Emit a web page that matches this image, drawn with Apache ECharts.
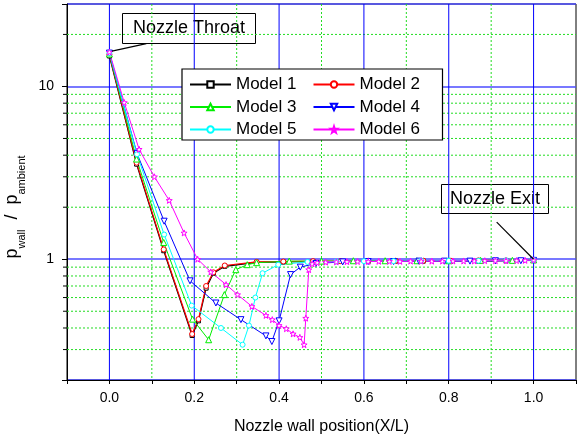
<!DOCTYPE html>
<html>
<head>
<meta charset="utf-8">
<script src="https://cdn.jsdelivr.net/npm/echarts@6.0.0/dist/echarts.min.js"></script>
<style>
  html, body { margin: 0; padding: 0; background: #fff; }
  #chart { width: 580px; height: 440px; }
</style>
</head>
<body>
<div id="chart"></div>
<script>
// wall pressure ratio along the nozzle, [X/L, p_wall/p_ambient]
var model1 = [[0, 15.0], [0.064, 3.55], [0.128, 1.12], [0.195, 0.362], [0.21, 0.44], [0.228, 0.68], [0.245, 0.83],
  [0.272, 0.91], [0.347, 0.96], [0.41, 0.965], [0.48, 0.97], [0.545, 0.97], [0.61, 0.97], [0.675, 0.975],
  [0.74, 0.975], [0.805, 0.975], [0.87, 0.975], [0.935, 0.98], [1.0, 0.985]];
var model2 = [[0, 15.3], [0.064, 3.62], [0.128, 1.14], [0.195, 0.369], [0.21, 0.45], [0.228, 0.70], [0.245, 0.84],
  [0.272, 0.92], [0.347, 0.965], [0.41, 0.97], [0.48, 0.975], [0.545, 0.975], [0.61, 0.98], [0.675, 0.98],
  [0.74, 0.98], [0.805, 0.98], [0.87, 0.985], [0.935, 0.985], [1.0, 0.99]];
var model3 = [[0, 15.4], [0.064, 3.8], [0.128, 1.25], [0.196, 0.45], [0.234, 0.342], [0.271, 0.624], [0.298, 0.87],
  [0.325, 0.93], [0.347, 0.955], [0.424, 0.975], [0.5, 0.975], [0.575, 0.98], [0.65, 0.98], [0.725, 0.98],
  [0.8, 0.98], [0.875, 0.985], [0.95, 0.985], [1.0, 0.99]];
var model4 = [[0, 15.6], [0.065, 4.1], [0.129, 1.66], [0.19, 0.75], [0.251, 0.558], [0.31, 0.447], [0.369, 0.36],
  [0.383, 0.334], [0.4, 0.44], [0.427, 0.815], [0.45, 0.9], [0.487, 0.945], [0.55, 0.965], [0.61, 0.97],
  [0.67, 0.97], [0.73, 0.975], [0.79, 0.975], [0.85, 0.975], [0.91, 0.98], [0.97, 0.98], [1.0, 0.985]];
var model5 = [[0, 15.6], [0.065, 4.05], [0.129, 1.39], [0.194, 0.539], [0.263, 0.40], [0.314, 0.32], [0.329, 0.413],
  [0.344, 0.6], [0.361, 0.83], [0.398, 0.93], [0.467, 0.965], [0.535, 0.97], [0.6, 0.975], [0.67, 0.975],
  [0.735, 0.98], [0.8, 0.98], [0.87, 0.98], [0.935, 0.985], [1.0, 0.99]];
var model6 = [[0, 15.8], [0.035, 8.07], [0.07, 4.33], [0.106, 3.0], [0.141, 2.19], [0.176, 1.42], [0.208, 1.0],
  [0.239, 0.844], [0.275, 0.713], [0.302, 0.624], [0.336, 0.533], [0.369, 0.473], [0.384, 0.447], [0.4, 0.414],
  [0.417, 0.396], [0.433, 0.37], [0.449, 0.353], [0.459, 0.32], [0.463, 0.456], [0.47, 0.87], [0.478, 0.94],
  [0.49, 0.955], [0.51, 0.962], [0.535, 0.965], [0.56, 0.968], [0.585, 0.97], [0.61, 0.97], [0.635, 0.972],
  [0.66, 0.972], [0.685, 0.972], [0.71, 0.975], [0.735, 0.975], [0.76, 0.975], [0.785, 0.975], [0.81, 0.977],
  [0.835, 0.977], [0.86, 0.977], [0.885, 0.98], [0.91, 0.98], [0.935, 0.98], [0.96, 0.982], [0.98, 0.985],
  [1.0, 0.99]];

var seriesNames = ['Model 1', 'Model 2', 'Model 3', 'Model 4', 'Model 5', 'Model 6'];
var yLabels = [1, 10];
var yMinorTicks = [0.3, 0.4, 0.5, 0.6, 0.7, 0.8, 0.9, 2, 3, 4, 5, 6, 7, 8, 9, 20];
var xMajorGrid = [0, 0.2, 0.4, 0.6, 0.8, 1.0];
var xMinorGrid = [0.1, 0.3, 0.5, 0.7, 0.9];
var throatArrow = [[0.087, 17.7], [0.006, 16.0]];
var exitArrow = [[0.913, 1.64], [1.0, 1.0]];

var X_MIN = -0.1, X_MAX = 1.1, Y_MIN = 0.2, Y_MAX = 30;
var FONT = '"Liberation Sans", Arial, sans-serif';
var STAR = 'path://M0,-10 L2.35,-3.24 L9.51,-3.09 L3.8,1.24 L5.88,8.09 L0,4 L-5.88,8.09 L-3.8,1.24 L-9.51,-3.09 L-2.35,-3.24 Z';

var styles = [
  { color: '#000000', symbol: 'rect', size: 4, rotate: 0, width: 1.2 },
  { color: '#ff0000', symbol: 'circle', size: 5, rotate: 0, width: 1.2 },
  { color: '#00ee00', symbol: 'triangle', size: 6, rotate: 0, width: 1 },
  { color: '#0000ff', symbol: 'triangle', size: 6, rotate: 180, width: 1 },
  { color: '#00ffff', symbol: 'circle', size: 5, rotate: 0, width: 1 },
  { color: '#ff00ff', symbol: STAR, size: 6, rotate: 0, width: 1 }
];
var allData = [model1, model2, model3, model4, model5, model6];

var chart = echarts.init(document.getElementById('chart'));

function hMinor(params, api) {
  var cs = params.coordSys;
  var p = api.coord([X_MIN, api.value(1)]);
  return {
    type: 'group',
    children: [
      { type: 'line', shape: { x1: cs.x, y1: p[1], x2: cs.x + cs.width, y2: p[1] },
        style: { stroke: '#22dd22', lineWidth: 1, lineDash: [2, 2] } },
      { type: 'line', shape: { x1: cs.x - 4, y1: p[1], x2: cs.x, y2: p[1] },
        style: { stroke: '#000', lineWidth: 1 } }
    ]
  };
}

function vLine(dashed) {
  return function (params, api) {
    var cs = params.coordSys;
    var p = api.coord([api.value(0), Y_MIN]);
    return {
      type: 'line',
      shape: { x1: p[0], y1: cs.y, x2: p[0], y2: cs.y + cs.height },
      style: dashed ? { stroke: '#22dd22', lineWidth: 1, lineDash: [2, 2] }
                    : { stroke: '#0000ff', lineWidth: 1 }
    };
  };
}

var series = [
  { type: 'custom', name: 'ygrid', z: 1, silent: true, renderItem: hMinor,
    data: yMinorTicks.map(function (v) { return [X_MIN, v]; }) },
  { type: 'custom', name: 'xgrid2', z: 1, silent: true, renderItem: vLine(true),
    data: xMinorGrid.map(function (v) { return [v, Y_MIN]; }) },
  { type: 'custom', name: 'xgrid1', z: 1, silent: true, renderItem: vLine(false),
    data: xMajorGrid.map(function (v) { return [v, Y_MIN]; }) }
];

seriesNames.forEach(function (name, i) {
  var s = styles[i];
  series.push({
    type: 'line',
    name: name,
    data: allData[i],
    z: 3,
    symbol: s.symbol,
    symbolSize: s.size,
    symbolRotate: s.rotate,
    showSymbol: true,
    color: s.color,
    lineStyle: { color: s.color, width: s.width },
    itemStyle: { color: '#fff', borderColor: s.color, borderWidth: 1 }
  });
});

series.push({
  type: 'line', name: 'notes', data: [], silent: true, z: 10,
  markLine: {
    silent: true,
    z: 10,
    symbol: ['none', 'arrow'],
    symbolSize: [0, 9],
    label: { show: false },
    lineStyle: { color: '#000', width: 1.2, type: 'solid', opacity: 1 },
    data: [
      [{ coord: throatArrow[0] }, { coord: throatArrow[1] }],
      [{ coord: exitArrow[0] }, { coord: exitArrow[1] }]
    ]
  }
});

var option = {
  animation: false,
  backgroundColor: '#fff',
  textStyle: { fontFamily: FONT },
  grid: {
    left: 67, right: 4, top: 4, bottom: 60,
    show: true, borderColor: '#000', borderWidth: 1,
    outerBoundsMode: 'none'
  },
  legend: {
    data: seriesNames,
    left: 182, top: 69,
    width: 262,
    orient: 'horizontal',
    itemWidth: 41, itemHeight: 8, itemGap: 5.5,
    padding: [7, 12, 2, 7],
    borderColor: '#000', borderWidth: 1.2,
    backgroundColor: '#fff',
    textStyle: { fontSize: 17, color: '#000', width: 71, lineHeight: 17, fontFamily: FONT }
  },
  xAxis: {
    type: 'value',
    min: X_MIN, max: X_MAX, interval: 0.1,
    name: 'Nozzle wall position(X/L)',
    nameLocation: 'middle', nameGap: 39,
    nameTextStyle: { fontSize: 16, color: '#000', fontFamily: FONT },
    axisLine: { onZero: false, lineStyle: { color: '#000', width: 1 } },
    axisTick: { length: 4, lineStyle: { color: '#000' } },
    axisLabel: {
      fontSize: 14, color: '#000', margin: 11, fontFamily: FONT,
      formatter: function (v) {
        var k = Math.round(v * 10);
        return (k >= 0 && k % 2 === 0) ? (k / 10).toFixed(1) : '';
      }
    },
    splitLine: { show: false }
  },
  yAxis: {
    type: 'log', logBase: 10,
    min: Y_MIN, max: Y_MAX,
    name: '{p|p}{s|wall}{p|  /  p}{s|ambient}',
    nameLocation: 'middle', nameRotate: 90, nameGap: 28,
    nameTextStyle: {
      color: '#000', padding: [0, 30, 0, 0],
      rich: {
        p: { fontSize: 18, lineHeight: 24, verticalAlign: 'top', color: '#000', fontFamily: FONT },
        s: { fontSize: 11, lineHeight: 11, verticalAlign: 'bottom', color: '#000', fontFamily: FONT }
      }
    },
    axisLine: { onZero: false, lineStyle: { color: '#000', width: 1 } },
    axisTick: { length: 5, lineStyle: { color: '#000' } },
    axisLabel: {
      fontSize: 14, color: '#000', margin: 13, fontFamily: FONT,
      formatter: function (v) {
        for (var i = 0; i < yLabels.length; i++) {
          if (Math.abs(v - yLabels[i]) < 1e-6) return String(yLabels[i]);
        }
        return '';
      }
    },
    splitLine: { show: true, lineStyle: { color: '#4b4bff', width: 1.5 } }
  },
  graphic: [
    { type: 'group', left: 122, top: 13, z: 100, children: [
      { type: 'rect', shape: { x: 0, y: 0, width: 133, height: 30 },
        style: { fill: '#fff', stroke: '#000', lineWidth: 1 } },
      { type: 'text', x: 66.5, y: 15,
        style: { text: 'Nozzle Throat', fontSize: 18, fontFamily: FONT, fill: '#000', align: 'center', verticalAlign: 'middle' } }
    ] },
    { type: 'group', left: 441, top: 184, z: 100, children: [
      { type: 'rect', shape: { x: 0, y: 0, width: 107, height: 29 },
        style: { fill: '#fff', stroke: '#000', lineWidth: 1 } },
      { type: 'text', x: 53.5, y: 14.5,
        style: { text: 'Nozzle Exit', fontSize: 18, fontFamily: FONT, fill: '#000', align: 'center', verticalAlign: 'middle' } }
    ] }
  ],
  series: series
};

chart.setOption(option);
</script>
</body>
</html>
